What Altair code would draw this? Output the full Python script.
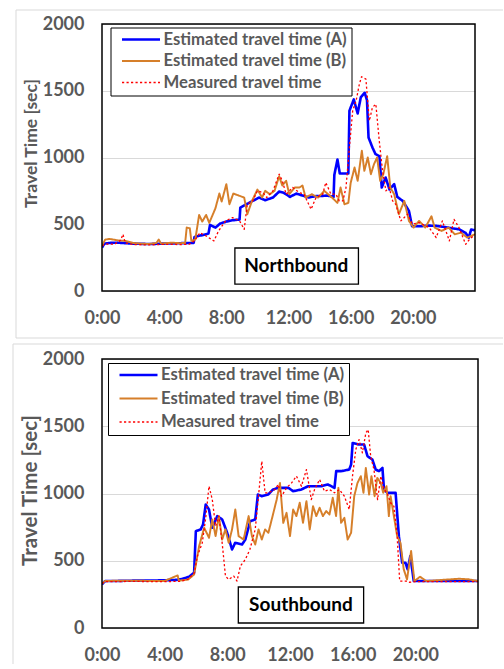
import altair as alt
import pandas as pd

SERIES = ["Estimated travel time (A)", "Estimated travel time (B)", "Measured travel time"]
COLORS = ["#0000FF", "#D67F2A", "#FF0000"]
WIDTHS = [2.6, 1.3, 2.4]
DASHES = [[1, 0], [1, 0], [2.2, 2.3]]
X_TICKS = [0, 4, 8, 12, 16, 20]
Y_TICKS = [0, 500, 1000, 1500, 2000]

# ---------------- Northbound ----------------
N_A_t = [0, 0.15, 0.5, 1, 2, 3, 4, 5, 5.9, 5.95, 6.5, 6.85, 6.95, 7.3, 7.6, 8.0, 8.4, 8.85, 8.9, 9.3,
         9.7, 10.1, 10.5, 11.0, 11.4, 11.7, 12.1, 12.5, 12.9, 13.3, 13.7, 14.1, 14.5, 14.9, 14.95, 15.15,
         15.3, 15.85, 15.92, 16.2, 16.45, 16.65, 16.9, 17.05, 17.15, 17.4, 17.6, 17.85, 18.0, 18.25, 18.5,
         18.8, 19.0, 19.35, 19.75, 19.95, 20.5, 21.0, 21.5, 22.0, 22.5, 23.0, 23.4, 23.6, 23.75, 24.0]
N_A_v = [325, 355, 360, 362, 355, 352, 355, 358, 360, 405, 420, 430, 495, 475, 505, 520, 530, 535, 625, 650,
         675, 700, 680, 700, 745, 735, 705, 730, 715, 700, 710, 712, 715, 705, 870, 985,
         880, 880, 1350, 1435, 1330, 1450, 1485, 1430, 1150, 1075, 1025, 1010, 775, 850, 760,
         800, 705, 675, 600, 485, 485, 490, 488, 480, 470, 462, 435, 400, 460, 455]

N_B_t = [0, 0.2, 0.5, 1.0, 1.5, 2.0, 2.5, 3.0, 3.5, 3.65, 3.8, 4.5, 5.0, 5.35, 5.45, 5.65, 5.75, 6.0,
         6.25, 6.45, 6.7, 6.9, 7.3, 7.55, 7.7, 8.0, 8.2, 8.45, 8.8, 9.15, 9.35, 9.65, 10.0, 10.3, 10.5,
         10.8, 11.1, 11.4, 11.6, 11.85, 12.05, 12.4, 12.7, 12.9, 13.1, 13.5, 13.9, 14.3, 14.8, 15.15,
         15.35, 15.6, 15.85, 16.0, 16.25, 16.45, 16.72, 16.88, 17.1, 17.3, 17.5, 17.7, 17.9, 18.1, 18.35,
         18.55, 18.8, 19.1, 19.45, 19.75, 20.05, 20.4, 20.8, 21.2, 21.4, 21.85, 22.3, 22.7, 23.1, 23.5, 24.0]
N_B_v = [335, 385, 390, 380, 375, 360, 355, 352, 360, 385, 355, 362, 358, 360, 475, 470, 375, 385,
         570, 520, 570, 510, 620, 730, 670, 800, 650, 730, 715, 700, 575, 675, 760, 700, 750,
         725, 750, 860, 790, 825, 725, 775, 775, 790, 700, 725, 700, 750, 700, 660,
         775, 650, 660, 810, 925, 825, 1050, 900, 1000, 875, 950, 1000, 825, 875, 1010,
         775, 725, 575, 675, 525, 475, 525, 475, 560, 475, 450, 475, 425, 437, 400, 425]

N_M_t = [0, 0.3, 0.8, 1.2, 1.35, 1.5, 2.0, 3.0, 4.0, 5.0, 5.6, 5.95, 6.3, 6.7, 7.2, 7.5, 7.95, 8.4,
         8.85, 9.15, 9.35, 9.7, 10.0, 10.35, 10.6, 11.0, 11.4, 11.6, 11.85, 12.27, 12.7, 13.0, 13.45,
         13.77, 14.2, 14.4, 14.73, 15.05, 15.27, 15.5, 15.7, 15.9, 16.13, 16.35, 16.56, 16.7, 16.98,
         17.2, 17.4, 17.62, 17.84, 18.05, 18.27, 18.48, 18.7, 18.9, 19.23, 19.66, 19.98, 20.4, 21.05,
         21.5, 21.9, 22.35, 22.65, 22.97, 23.4, 23.6, 24.0]
N_M_v = [340, 352, 350, 380, 425, 360, 348, 345, 350, 348, 350, 375, 437, 412, 375, 450, 525, 550,
         525, 462, 650, 675, 750, 737, 700, 750, 875, 825, 725, 775, 737, 725, 612,
         700, 725, 812, 725, 725, 675, 675, 775, 1050, 1350, 1425, 1550, 1605, 1587,
         1275, 1375, 1400, 1125, 900, 750, 775, 675, 650, 525, 575, 500, 512, 475,
         400, 525, 375, 537, 475, 350, 380, 425]

# ---------------- Southbound ----------------
S_A_t = [0, 0.2, 1, 2, 3, 4, 4.8, 5.14, 5.56, 5.88, 5.99, 6.3, 6.45, 6.62, 6.83, 7.04, 7.36, 7.67,
         7.99, 8.3, 8.5, 8.94, 9.15, 9.46, 9.78, 9.95, 10.2, 10.6, 10.92, 11.25, 11.9, 12.2, 12.73,
         13.15, 14.0, 14.42, 14.84, 14.95, 15.26, 15.78, 15.9, 16.0, 16.4, 16.73, 16.95, 17.26, 17.47,
         17.68, 17.9, 18.0, 18.21, 18.74, 18.95, 19.16, 19.37, 19.51, 19.68, 19.9, 21, 22, 23, 24]
S_A_v = [324, 349, 350, 352, 352, 355, 358, 366, 381, 411, 720, 733, 770, 918, 881, 745, 832, 807,
         708, 584, 633, 621, 658, 794, 807, 992, 980, 992, 1030, 1042, 1042, 1017, 1030,
         1054, 1054, 1067, 1042, 1166, 1166, 1178, 1215, 1376, 1364, 1364, 1277, 1252, 1178,
         1166, 1190, 1030, 1005, 1005, 683, 485, 485, 436, 535, 349, 349, 350, 349, 349]

S_B_t = [0, 0.2, 1, 2, 3, 4, 4.83, 4.9, 5.5, 5.88, 6.2, 6.52, 6.83, 7.04, 7.25, 7.46, 7.67, 7.88,
         8.09, 8.3, 8.51, 8.72, 9.04, 9.36, 9.57, 9.78, 9.99, 10.2, 10.41, 10.62, 10.94, 11.15, 11.36,
         11.57, 11.78, 12.0, 12.2, 12.41, 12.62, 12.83, 13.05, 13.26, 13.47, 13.68, 13.89, 14.1, 14.31,
         14.52, 14.73, 14.94, 15.09, 15.26, 15.47, 15.68, 15.9, 16.1, 16.31, 16.52, 16.69, 16.84, 17.05,
         17.2, 17.4, 17.57, 17.79, 17.95, 18.16, 18.31, 18.42, 18.63, 18.84, 19.05, 19.26, 19.47, 19.73,
         19.94, 20.3, 20.7, 21.4, 22.0, 22.8, 23.4, 24]
S_B_v = [330, 349, 352, 352, 350, 350, 391, 352, 360, 398, 609, 745, 671, 807, 683, 832, 658, 733,
         633, 733, 881, 683, 658, 832, 683, 621, 733, 658, 733, 708, 856, 955, 1079,
         782, 856, 683, 881, 832, 931, 782, 943, 733, 906, 832, 894, 832, 869,
         844, 968, 832, 1042, 782, 819, 658, 708, 980, 1079, 1129, 1005, 1190, 992,
         1129, 980, 1116, 1079, 1005, 1054, 832, 980, 832, 683, 633, 436, 361, 572,
         349, 381, 349, 355, 360, 366, 362, 349]

S_M_t = [0, 0.2, 1, 2, 3, 4, 5, 5.46, 5.88, 6.09, 6.4, 6.62, 6.83, 7.04, 7.25, 7.46, 7.67, 7.88, 8.09,
         8.41, 8.62, 8.83, 9.15, 9.44, 9.78, 9.99, 10.2, 10.41, 10.62, 11.04, 11.25, 11.46, 11.78, 12.1,
         12.41, 12.73, 13.05, 13.36, 13.57, 13.89, 14.2, 14.52, 14.84, 15.15, 15.47, 15.78, 15.99, 16.2,
         16.41, 16.62, 16.84, 16.99, 17.15, 17.36, 17.59, 17.8, 18.0, 18.2, 18.42, 18.63, 18.84, 19.0,
         19.4, 19.6, 20, 21, 22, 23, 24]
S_M_v = [330, 345, 345, 347, 345, 345, 347, 361, 406, 535, 633, 819, 1054, 955, 757, 832, 633, 386, 361,
         386, 349, 460, 510, 584, 733, 980, 1240, 1005, 1005, 1030, 1067, 980, 1042, 1079,
         1129, 1054, 1178, 955, 1030, 1104, 1017, 1030, 1005, 1030, 980, 881, 1129, 1327,
         1401, 1302, 1450, 1475, 1277, 1178, 955, 1129, 1030, 1005, 931, 906, 683, 349,
         349, 340, 345, 345, 345, 345, 345]

# direction label boxes (time, value)
N_BOX_T = [8.55, 16.5]
N_BOX_V = [52, 322]
N_LABEL = ["Northbound", 12.5, 187]
S_BOX_T = [8.7, 16.7]
S_BOX_V = [37, 305]
S_LABEL = ["Southbound", 12.7, 171]

FONT = "Lato"
GRAY = "#595959"


def make_df(tA, vA, tB, vB, tM, vM):
    parts = []
    for name, t, v in zip(SERIES, [tA, tB, tM], [vA, vB, vM]):
        parts.append(pd.DataFrame({"t": t, "v": v, "s": name, "o": range(len(t))}))
    return pd.concat(parts, ignore_index=True)


def panel(df, box_t, box_v, label, w, h, lx, ly, row_pad, title_size, title_y, frame):
    legend = alt.Legend(
        title=None, orient="none", legendX=lx, legendY=ly,
        strokeColor="black", fillColor="white", padding=4,
        symbolType="stroke", symbolSize=1444, symbolOffset=6, clipHeight=16,
        labelFont=FONT, labelFontWeight="bold", labelFontSize=16.7, labelColor=GRAY,
        labelOffset=2, rowPadding=row_pad, labelLimit=400,
    )
    xs = alt.Scale(domain=[0, 24], nice=False, zero=False)
    ys = alt.Scale(domain=[0, 2000], nice=False)
    xaxis = alt.Axis(values=X_TICKS, labelExpr="datum.value + ':00'", grid=False, ticks=False,
                     domain=False, labelFont=FONT, labelFontWeight="bold", labelFontSize=18,
                     labelColor=GRAY, labelPadding=18, labelFlush=False, labelOverlap=False,
                     title=None)
    yaxis = alt.Axis(values=Y_TICKS, format="d", grid=True, gridColor="#d9d9d9", gridWidth=1,
                     ticks=False, domain=False, labelFont=FONT, labelFontWeight="bold",
                     labelFontSize=18, labelColor=GRAY, labelPadding=18, labelFlush=False,
                     title="Travel Time [sec]",
                     titleFont=FONT, titleFontWeight="bold", titleFontSize=title_size,
                     titleColor=GRAY, titleX=-62, titleY=title_y, titleAngle=270,
                     titleAlign="center")

    lines = alt.Chart(df).mark_line(clip=True, strokeJoin="round").encode(
        x=alt.X("t:Q", scale=xs, axis=xaxis),
        y=alt.Y("v:Q", scale=ys, axis=yaxis),
        color=alt.Color("s:N", scale=alt.Scale(domain=SERIES, range=COLORS), legend=legend),
        strokeWidth=alt.StrokeWidth("s:N", scale=alt.Scale(domain=SERIES, range=WIDTHS), legend=legend),
        strokeDash=alt.StrokeDash("s:N", scale=alt.Scale(domain=SERIES, range=DASHES), legend=legend),
        order="o:Q",
    )

    bdf = pd.DataFrame({"t0": [box_t[0]], "t1": [box_t[1]], "v0": [box_v[0]], "v1": [box_v[1]],
                        "lab": [label[0]], "lt": [label[1]], "lv": [label[2]]})
    box = alt.Chart(bdf).mark_rect(fill="white", stroke="black", strokeWidth=1.3).encode(
        x=alt.X("t0:Q", scale=xs), x2="t1", y=alt.Y("v0:Q", scale=ys), y2="v1")
    txt = alt.Chart(bdf).mark_text(font=FONT, fontWeight="bold", fontSize=19, color="black",
                                   baseline="middle", align="center").encode(
        x=alt.X("lt:Q", scale=xs), y=alt.Y("lv:Q", scale=ys), text="lab:N")

    one = pd.DataFrame({"k": [0]})
    border = alt.Chart(one).mark_rect(fill=None, stroke="black", strokeWidth=1.5).encode(
        x=alt.value(0), x2=alt.value(w), y=alt.value(0), y2=alt.value(h))
    frame_layers = []
    for (x1, y1, x2, y2) in frame:
        frame_layers.append(alt.Chart(one).mark_rule(color="#d9d9d9", strokeWidth=1).encode(
            x=alt.value(x1), y=alt.value(y1), x2=alt.value(x2), y2=alt.value(y2)))

    return alt.layer(*frame_layers, lines, box, txt, border).properties(width=w, height=h)


north_df = make_df(N_A_t, N_A_v, N_B_t, N_B_v, N_M_t, N_M_v)
south_df = make_df(S_A_t, S_A_v, S_B_t, S_B_v, S_M_t, S_M_v)

top = panel(north_df, N_BOX_T, N_BOX_V, N_LABEL, 373, 267, 8.5, 3.5, 4.5, 17.5, 119,
            [(-86, -14, -86, 314), (-86, -14, 401, -14), (-86, 314, 401, 314)])
bottom = panel(south_df, S_BOX_T, S_BOX_V, S_LABEL, 376, 269, 6, 4, 6.5, 20.5, 131,
               [(-89, -15, -89, 305), (-89, -15, 401, -15)])

chart = alt.vconcat(top, bottom, spacing=68, bounds="flush").resolve_scale(
    color="independent", strokeWidth="independent", strokeDash="independent"
).resolve_legend(
    color="independent", strokeWidth="independent", strokeDash="independent"
).configure_view(stroke=None).properties(
    padding={"left": 12, "top": 9, "right": 0, "bottom": 0}
)

chart.save("out.html", embed_options={"renderer": "svg", "actions": False})
